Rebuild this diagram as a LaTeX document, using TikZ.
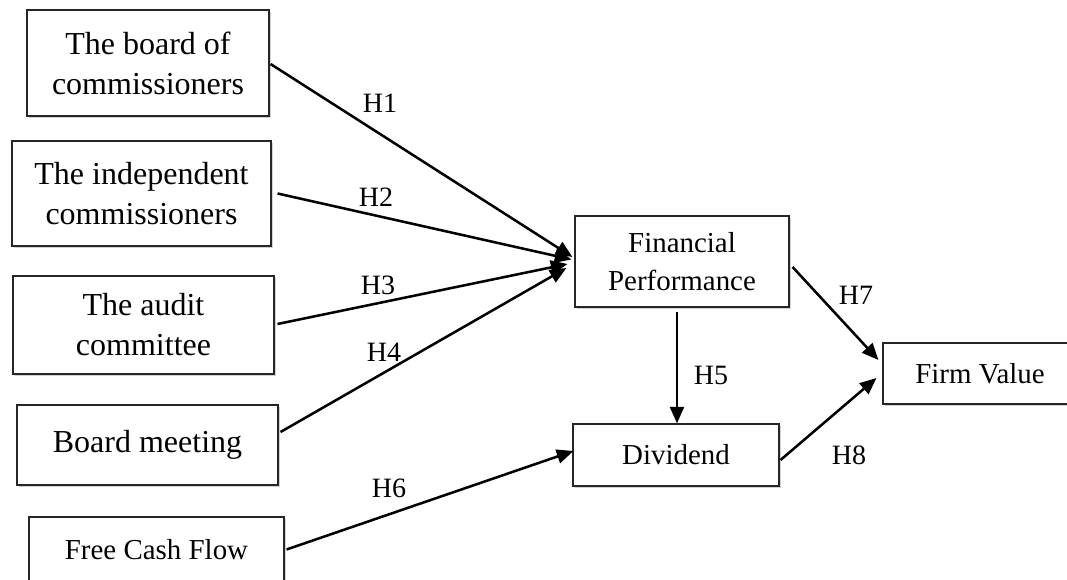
\documentclass[tikz,border=0pt]{standalone}
\usepackage{fontspec}
\setmainfont{Liberation Serif}
\usetikzlibrary{calc,arrows.meta,shadows}
\begin{document}
\begin{tikzpicture}[x=0.75pt,y=-0.75pt,
  box/.style={draw=black!85, line width=0.8pt, fill=white, align=center, inner sep=0pt,
    drop shadow={shadow xshift=1.2pt, shadow yshift=-1.2pt, opacity=0.18, fill=black}},
  lbox/.style={box, font=\fontsize{24}{30}\selectfont},
  rbox/.style={box, font=\fontsize{21.7}{29}\selectfont},
  arr/.style={line width=1.9pt, -{Triangle[length=12.5pt,width=10.5pt]}},
  hlab/.style={font=\fontsize{21}{24}\selectfont, inner sep=0pt}]
\useasboundingbox (0,0) rectangle (1067,580);
% left boxes
\node[lbox, minimum width=242*0.75pt, minimum height=106*0.75pt] (b1) at (148,63) {The board of\\commissioners};
\node[lbox, minimum width=259*0.75pt, minimum height=105*0.75pt] (b2) at (141.5,193.5) {The independent\\commissioners};
\node[lbox, minimum width=261*0.75pt, minimum height=98*0.75pt] (b3) at (143.5,325) {The audit\\committee};
\node[lbox, minimum width=261*0.75pt, minimum height=80*0.75pt] (b4) at (147.5,445) {Board meeting};
\node[rbox, minimum width=255*0.75pt, minimum height=65*0.75pt] (b5) at (156.5,549.5) {Free Cash Flow};
% right boxes
\node[rbox, minimum width=214*0.75pt, minimum height=91*0.75pt] (fp) at (682,261.5) {Financial\\Performance};
\node[rbox, minimum width=206*0.75pt, minimum height=62*0.75pt] (dv) at (676,455) {Dividend};
\node[rbox, minimum width=194*0.75pt, minimum height=61*0.75pt] (fv) at (980,373.5) {Firm Value};
% arrows
\draw[arr] ($(b1.east)+(1,1)$) -- ($(fp.west)+(-2,-4.5)$);
\draw[arr] ($(b2.east)+(6,0)$) -- ($(fp.west)+(-3,-2)$);
\draw[arr] ($(b3.east)+(3,-1)$) -- ($(fp.west)+(-7,2.5)$);
\draw[arr] ($(b4.east)+(2,-13)$) -- ($(fp.west)+(-8,6.5)$);
\draw[arr] ($(fp.south)+(-5,4)$) -- ($(dv.north)+(1,0)$);
\draw[arr] ($(b5.east)+(2,0)$) -- ($(dv.west)+(1,-4)$);
\draw[arr] ($(fp.east)+(3,5.5)$) -- ($(fv.west)+(-4,-13.5)$);
\draw[arr] ($(dv.east)+(1,5)$) -- ($(fv.west)+(-6,4.5)$);
% labels
\node[hlab] (h1) at (380,103) {H1};
\node[hlab] (h2) at (376,197) {H2};
\node[hlab] (h3) at (378,285) {H3};
\node[hlab] (h4) at (384,352) {H4};
\node[hlab] (h5) at (711,375) {H5};
\node[hlab] (h6) at (389,488) {H6};
\node[hlab] (h7) at (856,295) {H7};
\node[hlab] (h8) at (849,455) {H8};
\end{tikzpicture}
\end{document}
